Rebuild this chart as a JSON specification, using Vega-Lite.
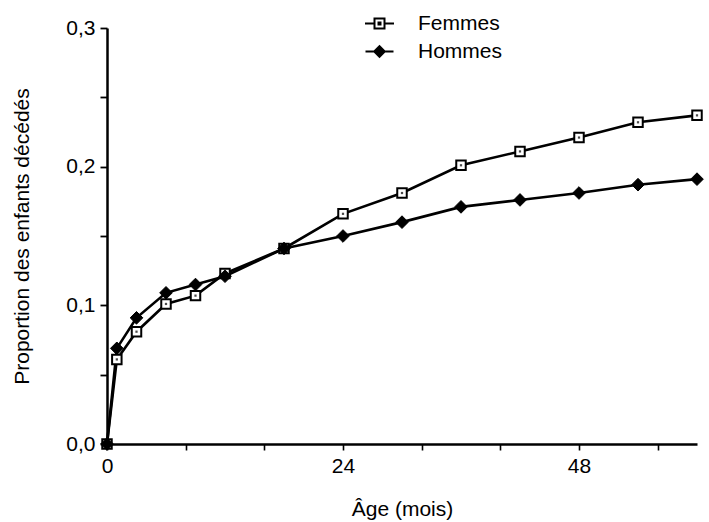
{
  "$schema": "https://vega.github.io/schema/vega-lite/v6.json",
  "autosize": {"type": "none"},
  "width": 590,
  "height": 416,
  "padding": {"left": 107, "top": 28, "right": 12, "bottom": 78},
  "background": "white",
  "config": {
    "view": {"stroke": null},
    "font": "Liberation Sans",
    "axis": {"grid": false, "domainColor": "black", "tickColor": "black", "labelColor": "black", "titleColor": "black", "labelFont": "Liberation Sans", "titleFont": "Liberation Sans", "titleFontWeight": "normal"},
    "legend": {"labelFont": "Liberation Sans", "labelColor": "black"}
  },
  "data": {
    "values": [
      {"mois": 0, "sexe": "Femmes", "prop": 0},
      {"mois": 1, "sexe": "Femmes", "prop": 0.061},
      {"mois": 3, "sexe": "Femmes", "prop": 0.081},
      {"mois": 6, "sexe": "Femmes", "prop": 0.101},
      {"mois": 9, "sexe": "Femmes", "prop": 0.107},
      {"mois": 12, "sexe": "Femmes", "prop": 0.123},
      {"mois": 18, "sexe": "Femmes", "prop": 0.141},
      {"mois": 24, "sexe": "Femmes", "prop": 0.166},
      {"mois": 30, "sexe": "Femmes", "prop": 0.181},
      {"mois": 36, "sexe": "Femmes", "prop": 0.201},
      {"mois": 42, "sexe": "Femmes", "prop": 0.211},
      {"mois": 48, "sexe": "Femmes", "prop": 0.221},
      {"mois": 54, "sexe": "Femmes", "prop": 0.232},
      {"mois": 60, "sexe": "Femmes", "prop": 0.237},
      {"mois": 0, "sexe": "Hommes", "prop": 0},
      {"mois": 1, "sexe": "Hommes", "prop": 0.069},
      {"mois": 3, "sexe": "Hommes", "prop": 0.091},
      {"mois": 6, "sexe": "Hommes", "prop": 0.109},
      {"mois": 9, "sexe": "Hommes", "prop": 0.115},
      {"mois": 12, "sexe": "Hommes", "prop": 0.121},
      {"mois": 18, "sexe": "Hommes", "prop": 0.141},
      {"mois": 24, "sexe": "Hommes", "prop": 0.150},
      {"mois": 30, "sexe": "Hommes", "prop": 0.160},
      {"mois": 36, "sexe": "Hommes", "prop": 0.171},
      {"mois": 42, "sexe": "Hommes", "prop": 0.176},
      {"mois": 48, "sexe": "Hommes", "prop": 0.181},
      {"mois": 54, "sexe": "Hommes", "prop": 0.187},
      {"mois": 60, "sexe": "Hommes", "prop": 0.191}
    ]
  },
  "layer": [
    {
      "mark": {"type": "line", "stroke": "black", "strokeWidth": 2.6},
      "encoding": {
        "x": {"field": "mois", "type": "quantitative", "scale": {"domain": [0, 60], "nice": false},
          "axis": {"values": [0,1,2,3,4,5,6,7,8,9,10,11,12,13,14,15,16,17,18,19,20,21,22,23,24,25,26,27,28,29,30,31,32,33,34,35,36,37,38,39,40,41,42,43,44,45,46,47,48,49,50,51,52,53,54,55,56,57,58,59,60],
            "labelExpr": "datum.value % 6 === 0 ? datum.label : ''", "labelOverlap": false, "labelFlush": false,
            "title": "Âge (mois)", "titleFontSize": 21, "labelFontSize": 21, "tickSize": 6, "tickWidth": 1.6, "domainWidth": 2.5, "labelPadding": 5, "titlePadding": 22}},
        "y": {"field": "prop", "type": "quantitative", "scale": {"domain": [0, 0.3], "nice": false},
          "axis": {"values": [0, 0.05, 0.1, 0.15, 0.2, 0.25, 0.3],
            "labelExpr": "round(datum.value * 100) % 10 === 0 ? replace(format(datum.value, '.1f'), '.', ',') : ''", "labelOverlap": false, "labelFlush": false,
            "title": "Proportion des enfants décédés", "titleFontSize": 21, "labelFontSize": 21, "tickSize": 7, "tickWidth": 1.8, "domainWidth": 2.5, "labelPadding": 5, "titlePadding": 33}},
        "detail": {"field": "sexe"}
      }
    },
    {
      "transform": [{"filter": "datum.sexe === 'Femmes'"}],
      "mark": {"type": "point", "shape": "square", "filled": true, "stroke": "black", "strokeWidth": 2, "size": 90, "opacity": 1},
      "encoding": {
        "x": {"field": "mois", "type": "quantitative"},
        "y": {"field": "prop", "type": "quantitative"},
        "fill": {"field": "sexe", "type": "nominal", "scale": {"domain": ["Femmes"], "range": ["white"]},
          "legend": {"title": null, "orient": "none", "legendX": 262, "legendY": -15, "padding": 0, "labelFontSize": 21, "labelOffset": 28, "symbolSize": 100, "symbolStrokeWidth": 2, "symbolStrokeColor": "black",
            "symbolType": "M-2.9,0H-1M1,0H2.9M-1,-1H1V1H-1ZM-0.2,-0.2H0.2V0.2H-0.2Z"}}
      }
    },
    {
      "transform": [{"filter": "datum.sexe === 'Femmes'"}],
      "mark": {"type": "point", "shape": "square", "filled": true, "fill": "black", "size": 5},
      "encoding": {
        "x": {"field": "mois", "type": "quantitative"},
        "y": {"field": "prop", "type": "quantitative"}
      }
    },
    {
      "transform": [{"filter": "datum.sexe === 'Hommes'"}],
      "mark": {"type": "point", "shape": "diamond", "filled": true, "fill": "black", "strokeWidth": 1, "size": 160, "opacity": 1},
      "encoding": {
        "x": {"field": "mois", "type": "quantitative"},
        "y": {"field": "prop", "type": "quantitative"},
        "stroke": {"field": "sexe", "type": "nominal", "scale": {"domain": ["Hommes"], "range": ["black"]},
          "legend": {"title": null, "orient": "none", "legendX": 262, "legendY": 13, "padding": 0, "labelFontSize": 21, "labelOffset": 28, "symbolSize": 100, "symbolStrokeWidth": 2, "symbolFillColor": "black",
            "symbolType": "M-2.8,0H-1M1,0H2.8M-1.05,0L0,-1.05L1.05,0L0,1.05Z"}}
      }
    }
  ]
}
